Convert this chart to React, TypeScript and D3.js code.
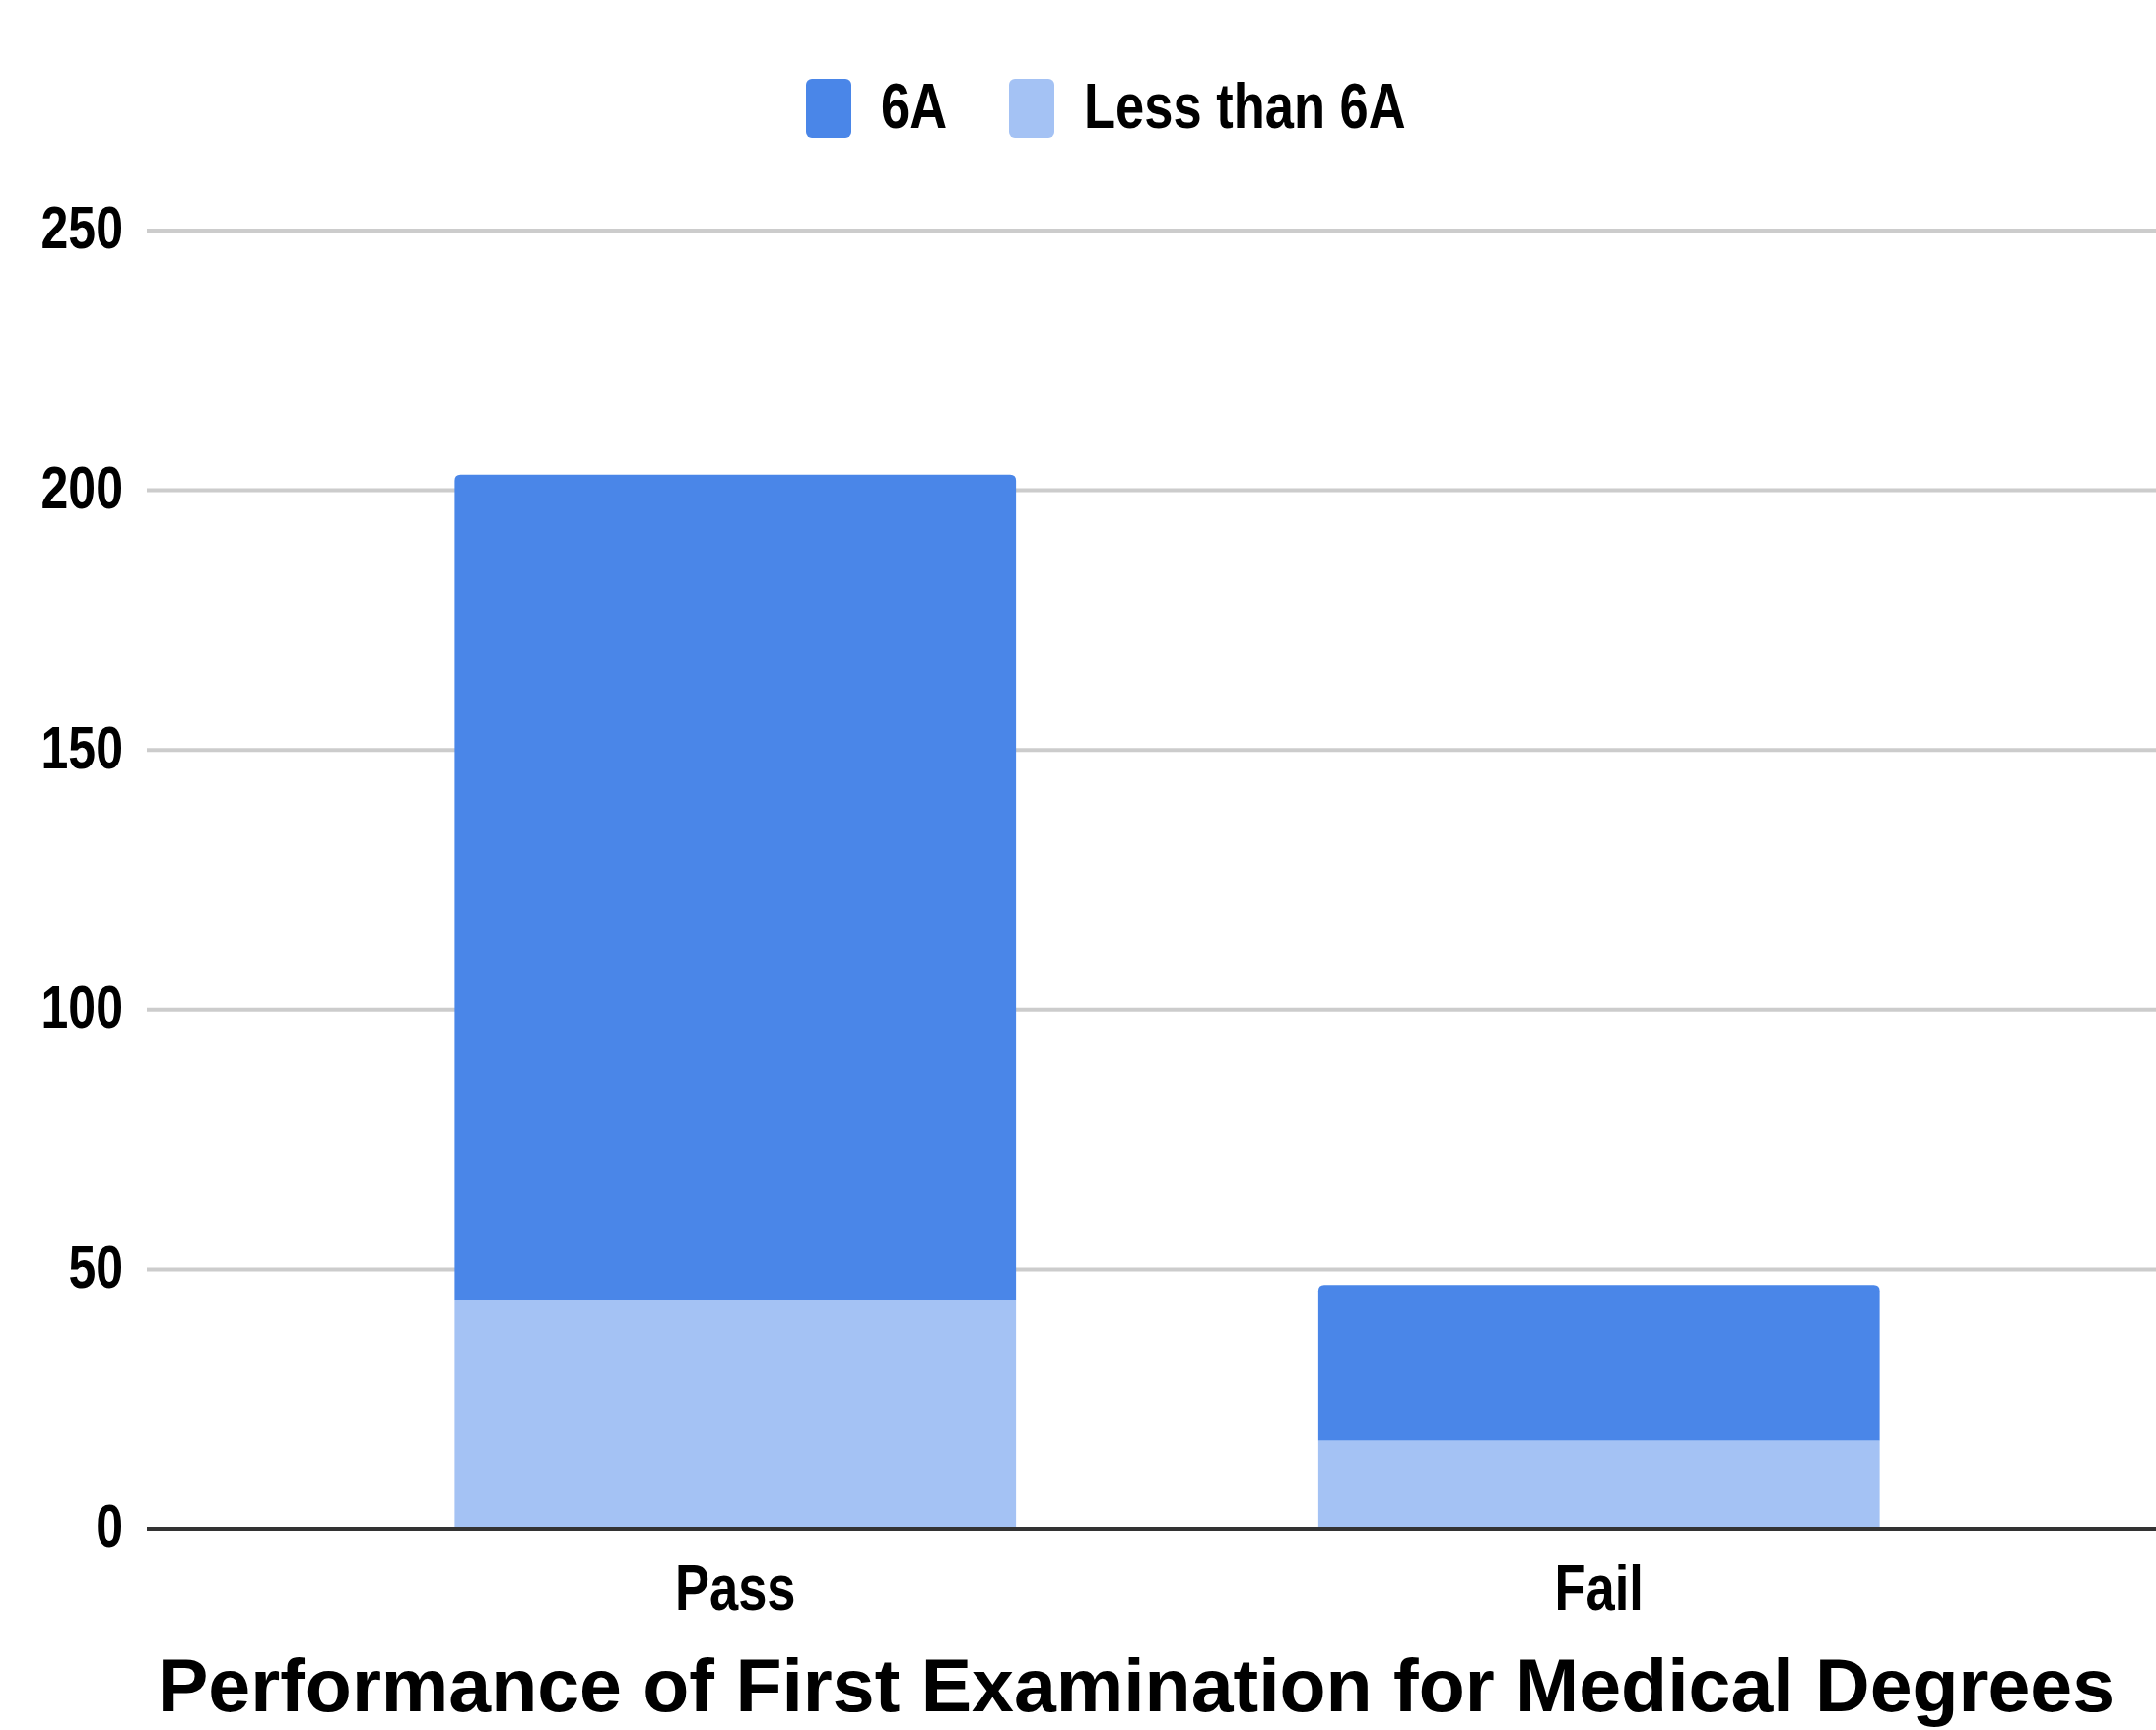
import * as React from 'react';
import * as d3 from 'd3';

// chart values
const categories = ['Pass', 'Fail'];
const seriesNames = ['6A', 'Less than 6A'];
const sixA = [159, 30];
const lessThanSixA = [44, 17];
const yTicks = [0, 50, 100, 150, 200, 250];
const title = 'Performance of First Examination for Medical Degrees';

const colors = ['#4a86e8', '#a4c2f4'];

const WIDTH = 2188;
const HEIGHT = 1756;
const FONT = '"Liberation Sans", Arial, Helvetica, sans-serif';
const NARROW = 0.82;

export default function App() {
  const ref = React.useRef<SVGSVGElement>(null);

  React.useEffect(() => {
    if (!ref.current) return;
    const svg = d3.select(ref.current);
    svg.selectAll('*').remove();

    const gridLeft = 149;
    const y = d3.scaleLinear().domain([0, 250]).range([1552, 234]);
    const x = d3
      .scaleBand<string>()
      .domain(categories)
      .range([308, 2061])
      .paddingInner(0.35)
      .paddingOuter(0.175);

    // gridlines
    svg
      .append('g')
      .selectAll('line')
      .data(yTicks.filter((t) => t > 0))
      .enter()
      .append('line')
      .attr('x1', gridLeft)
      .attr('x2', WIDTH)
      .attr('y1', (d) => y(d))
      .attr('y2', (d) => y(d))
      .attr('stroke', '#cccccc')
      .attr('stroke-width', 4);

    // y tick labels
    svg
      .append('g')
      .selectAll('text')
      .data(yTicks)
      .enter()
      .append('text')
      .attr('transform', (d) => `translate(125,${y(d)}) scale(${NARROW},1)`)
      .attr('dy', '0.3em')
      .attr('text-anchor', 'end')
      .attr('font-family', FONT)
      .attr('font-weight', 'bold')
      .attr('font-size', 61)
      .attr('fill', '#000')
      .text((d) => d);

    // stacked bars
    const rows = categories.map((c, i) => ({
      cat: c,
      less: lessThanSixA[i],
      six: sixA[i],
    }));
    const stack = d3.stack<any>().keys(['less', 'six'])(rows);
    const r = 6;
    stack.forEach((layer, li) => {
      svg
        .append('g')
        .selectAll('path')
        .data(layer)
        .enter()
        .append('path')
        .attr('fill', li === 0 ? colors[1] : colors[0])
        .attr('d', (d: any) => {
          const x0 = x(d.data.cat) ?? 0;
          const x1 = x0 + x.bandwidth();
          const yb = y(d[0]);
          const yt = y(d[1]);
          if (li === 0) {
            return `M${x0},${yb}L${x0},${yt}L${x1},${yt}L${x1},${yb}Z`;
          }
          return (
            `M${x0},${yb}L${x0},${yt + r}Q${x0},${yt} ${x0 + r},${yt}` +
            `L${x1 - r},${yt}Q${x1},${yt} ${x1},${yt + r}L${x1},${yb}Z`
          );
        });
    });

    // baseline
    svg
      .append('line')
      .attr('x1', gridLeft)
      .attr('x2', WIDTH)
      .attr('y1', y(0))
      .attr('y2', y(0))
      .attr('stroke', '#333333')
      .attr('stroke-width', 4);

    // x labels
    svg
      .append('g')
      .selectAll('text')
      .data(categories)
      .enter()
      .append('text')
      .attr(
        'transform',
        (d) =>
          `translate(${(x(d) ?? 0) + x.bandwidth() / 2},1634) scale(${NARROW},1)`
      )
      .attr('text-anchor', 'middle')
      .attr('font-family', FONT)
      .attr('font-weight', 'bold')
      .attr('font-size', 64)
      .attr('fill', '#000')
      .text((d) => d);

    // legend
    const legendX = [818, 1024];
    const legend = svg
      .append('g')
      .selectAll('g')
      .data(seriesNames)
      .enter()
      .append('g')
      .attr('transform', (_d, i) => `translate(${legendX[i]},80)`);
    legend
      .append('rect')
      .attr('width', 46)
      .attr('height', 60)
      .attr('rx', 6)
      .attr('fill', (_d, i) => colors[i]);
    legend
      .append('text')
      .attr('transform', `translate(76,50) scale(${NARROW},1)`)
      .attr('font-family', FONT)
      .attr('font-weight', 'bold')
      .attr('font-size', 64)
      .attr('fill', '#000')
      .text((d) => d);

    // title
    svg
      .append('text')
      .attr('x', 160)
      .attr('y', 1737)
      .attr('textLength', 1986)
      .attr('lengthAdjust', 'spacingAndGlyphs')
      .attr('font-family', FONT)
      .attr('font-weight', 'bold')
      .attr('font-size', 76)
      .attr('fill', '#000')
      .text(title);
  }, []);

  return (
    <svg
      ref={ref}
      width={WIDTH}
      height={HEIGHT}
      viewBox={`0 0 ${WIDTH} ${HEIGHT}`}
      style={{ position: 'absolute', left: 0, top: 0, background: '#fff' }}
    />
  );
}
